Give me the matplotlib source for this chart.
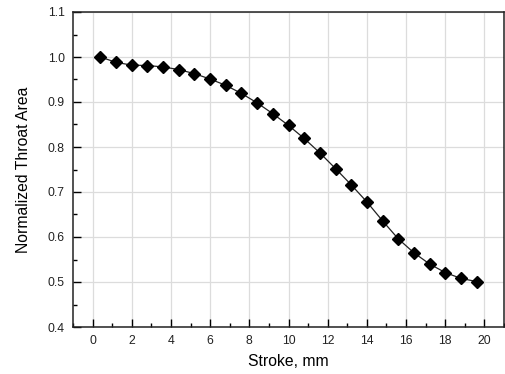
import matplotlib
matplotlib.use("Agg")
import matplotlib.pyplot as plt
import numpy as np
from matplotlib.ticker import MultipleLocator

plt.rcParams.update({
    "font.family": "Liberation Sans",
    "figure.dpi": 100,
})

# Stroke positions [mm] and normalized throat area
stroke = [0.4, 1.2, 2.0, 2.8, 3.6, 4.4, 5.2, 6.0, 6.8, 7.6, 8.4, 9.2, 10.0,
          10.8, 11.6, 12.4, 13.2, 14.0, 14.8, 15.6, 16.4, 17.2, 18.0, 18.8, 19.6]
area = [1.000, 0.988, 0.982, 0.981, 0.978, 0.972, 0.963, 0.951, 0.937, 0.919,
        0.898, 0.874, 0.848, 0.819, 0.787, 0.752, 0.716, 0.678, 0.636, 0.596,
        0.565, 0.540, 0.521, 0.508, 0.501]

fig = plt.figure(figsize=(5.05, 3.74))
ax = fig.add_axes([73 / 505, 47 / 374, 431 / 505, 315 / 374])

ax.plot(stroke, area, color="#222222", linewidth=0.9,
        marker="D", markersize=6.2, markerfacecolor="black",
        markeredgecolor="black", zorder=3)

ax.set_xlim(-1, 21)
ax.set_ylim(0.4, 1.1)
ax.xaxis.set_major_locator(MultipleLocator(2))
ax.xaxis.set_minor_locator(MultipleLocator(1))
ax.yaxis.set_major_locator(MultipleLocator(0.1))
ax.yaxis.set_minor_locator(MultipleLocator(0.05))
ax.yaxis.set_major_formatter(plt.FormatStrFormatter("%.1f"))

ax.tick_params(which="both", direction="in", top=False, right=False,
               labelsize=8.8, width=1, color="black", labelcolor="#222222")
ax.tick_params(which="major", length=6, pad=6)
ax.tick_params(which="minor", length=3)

ax.grid(True, which="major", color="#dcdcdc", linewidth=0.9)
ax.set_axisbelow(True)
for s in ax.spines.values():
    s.set_linewidth(1.1)
    s.set_color("#222222")

ax.set_xlabel("Stroke, mm", fontsize=11.3, labelpad=5)
ax.set_ylabel("Normalized Throat Area", fontsize=11.3, labelpad=12)

fig.savefig("out.png", dpi=100)
